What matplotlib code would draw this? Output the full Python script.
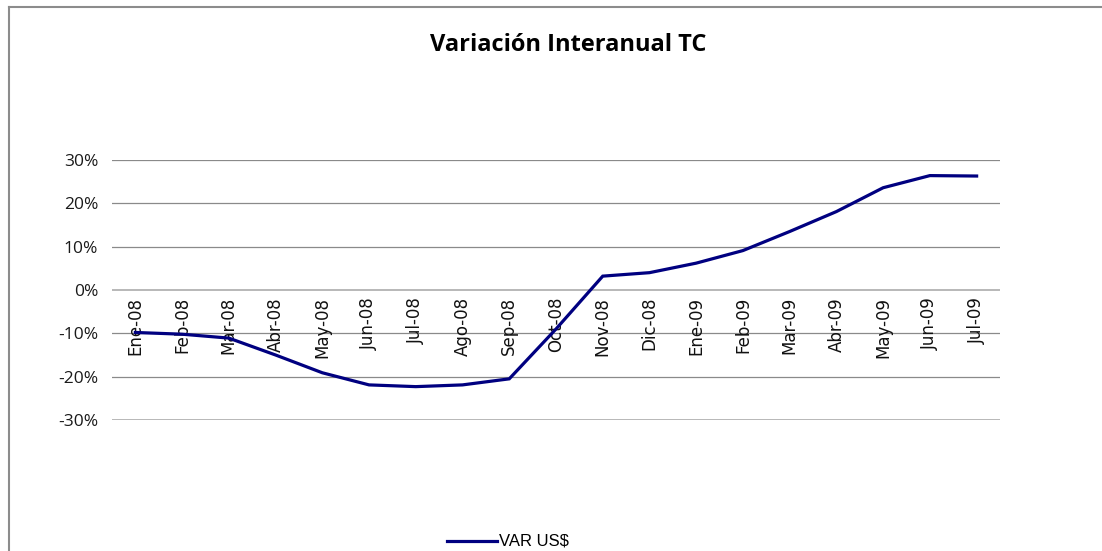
import matplotlib.pyplot as plt
from matplotlib.lines import Line2D
from matplotlib.ticker import FuncFormatter

# Data
meses = ['Ene-08', 'Feb-08', 'Mar-08', 'Abr-08', 'May-08', 'Jun-08', 'Jul-08',
         'Ago-08', 'Sep-08', 'Oct-08', 'Nov-08', 'Dic-08', 'Ene-09', 'Feb-09',
         'Mar-09', 'Abr-09', 'May-09', 'Jun-09', 'Jul-09']
var_usd = [-9.8, -10.2, -11.1, -15.0, -19.1, -21.9, -22.3, -21.9, -20.5, -9.0,
           3.2, 4.0, 6.2, 9.1, 13.5, 18.1, 23.6, 26.4, 26.3]
y_ticks = [-30, -20, -10, 0, 10, 20, 30]

W, H = 1102, 551
fig = plt.figure(figsize=(W / 100, H / 100), dpi=100)

# outer chart border (left and top only visible)
fig.add_artist(Line2D([8.5 / W, 8.5 / W], [0, 1 - 7 / H], color='#8c8c8c', lw=1.5))
fig.add_artist(Line2D([8.5 / W, 1], [1 - 7 / H, 1 - 7 / H], color='#8c8c8c', lw=1.5))

ax = fig.add_axes([112 / W, 1 - 420 / H, 888 / W, 260 / H])
x = list(range(len(meses)))
ax.plot(x, var_usd, color='#000080', lw=2.3, solid_joinstyle='miter', zorder=3)

ax.set_xlim(-0.5, len(meses) - 0.5)
ax.set_ylim(-30, 30)
ax.set_yticks(y_ticks)
ax.yaxis.set_major_formatter(FuncFormatter(lambda v, p: '%d%%' % v))
for t in y_ticks:
    if t in (0, -30):
        ax.axhline(t, color='#b8b8b8', lw=1.4, zorder=1)
    else:
        ax.axhline(t, color='#8a8a8a', lw=0.9, zorder=1)

for s in ax.spines.values():
    s.set_visible(False)
ax.tick_params(axis='y', length=0, pad=10, labelsize=12.5)
for lab in ax.get_yticklabels():
    lab.set_family(['Open Sans', 'DejaVu Sans'])
    lab.set_color('#1a1a1a')
ax.set_xticks([])

# category labels sit on the zero line, as in Excel
for i, m in enumerate(meses):
    ax.annotate(m, (i, 0), xytext=(0, -5), textcoords='offset points',
                rotation=90, ha='center', va='top', fontsize=12,
                family=['DejaVu Sans'], color='#111111', zorder=2)

fig.text(568 / W, 1 - 45 / H, 'Variación Interanual TC', ha='center', va='center',
         fontsize=17, fontweight='bold', family=['Open Sans', 'DejaVu Sans'])

# legend
fig.add_artist(Line2D([447 / W, 497 / W], [1 - 541 / H, 1 - 541 / H],
                      color='#000080', lw=2.3))
fig.text(499 / W, 1 - 541 / H, 'VAR US$', ha='left', va='center', fontsize=12,
         family=['Liberation Sans Narrow', 'Liberation Sans', 'DejaVu Sans'])

fig.savefig('out.png', dpi=100)
